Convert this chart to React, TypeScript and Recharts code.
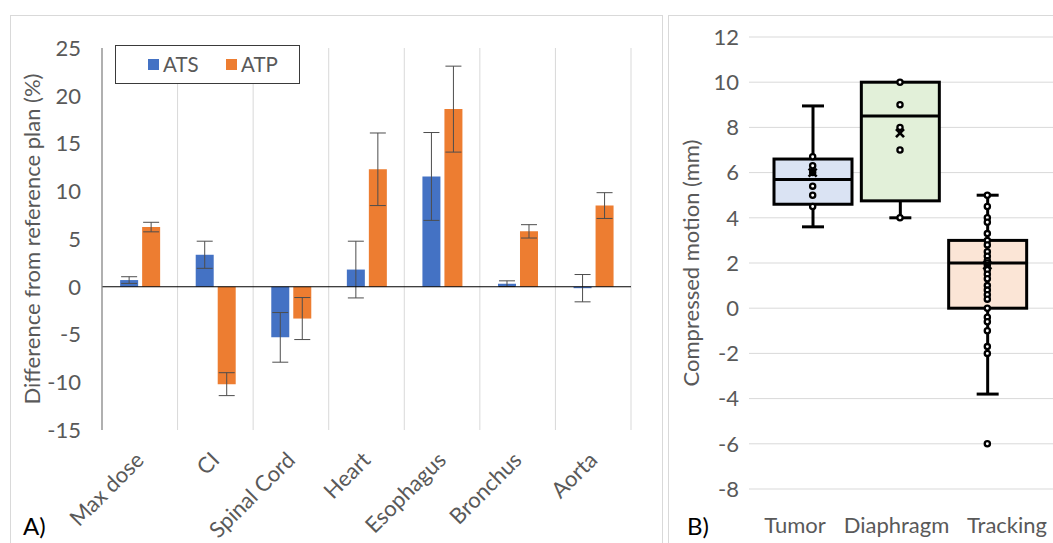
import React from 'react';
import {
  BarChart, Bar, XAxis, YAxis, ErrorBar, ReferenceLine, Legend,
  ComposedChart, Scatter, CartesianGrid,
} from 'recharts';

// ---------- Panel A data ----------
const organs = ['Max dose', 'CI', 'Spinal Cord', 'Heart', 'Esophagus', 'Bronchus', 'Aorta'];
const seriesNames = ['ATS', 'ATP'];
const atsMean = [0.7, 3.35, -5.3, 1.8, 11.55, 0.32, -0.15];
const atsErr = [0.35, 1.42, 2.6, 2.97, 4.6, 0.3, 1.43];
const atpMean = [6.25, -10.2, -3.33, 12.3, 18.6, 5.8, 8.5];
const atpErr = [0.5, 1.2, 2.2, 3.8, 4.5, 0.7, 1.35];
const yTicksA = [-15, -10, -5, 0, 5, 10, 15, 20, 25];

// ---------- Panel B data ----------
const groups = ['Tumor', 'Diaphragm', 'Tracking'];
const boxMin = [3.6, 4.0, -3.8];
const boxQ1 = [4.6, 4.75, 0];
const boxMedian = [5.7, 8.5, 2.0];
const boxQ3 = [6.6, 10.0, 3.0];
const boxMax = [8.95, 10.0, 5.0];
const boxMean = [6.0, 7.75, 1.9];
const tumorPts = [6.7, 6.3, 6.0, 5.4, 5.0, 4.5];
const diaphragmPts = [10, 9, 8, 7, 4];
const trackingPts = [5.0, 4.5, 4.0, 3.8, 3.3, 3.0, 2.8, 2.5, 2.3, 2.1, 2.0, 1.9, 1.7, 1.5, 1.3, 1.0, 0.8, 0.6, 0.4, 0.0, -0.4, -0.6, -1.0, -1.7, -2.0, -6.0];
const yTicksB = [-8, -6, -4, -2, 0, 2, 4, 6, 8, 10, 12];

// ---------- styles ----------
const FONT = 'Lato, "Open Sans", sans-serif';
const FS = 22;
const GRAY = '#595959';
const seriesColors = ['#4472c4', '#ed7d31'];
const boxFills = ['#dae3f3', '#e2f0d9', '#fbe5d6'];

const barData = organs.map((name, i) => ({
  name, ATS: atsMean[i], atsErr: atsErr[i], ATP: atpMean[i], atpErr: atpErr[i],
}));

const boxData = groups.map((name, i) => ({
  name, min: boxMin[i], q1: boxQ1[i], median: boxMedian[i], q3: boxQ3[i], max: boxMax[i],
}));

const pointData = [
  ...tumorPts.map((v) => ({ name: groups[0], v })),
  ...diaphragmPts.map((v) => ({ name: groups[1], v })),
  ...trackingPts.map((v) => ({ name: groups[2], v })),
];
const meanData = groups.map((name, i) => ({ name, v: boxMean[i] }));

const AngledTick = (props: any) => {
  const { x, y, payload } = props;
  return (
    <text x={x} y={y} transform={`rotate(-45 ${x} ${y})`} textAnchor="end" dy="0.35em"
      fill={GRAY} fontSize={FS} fontFamily={FONT}>
      {payload.value}
    </text>
  );
};

const LegendA = () => (
  <div style={{
    width: 185, height: 39, border: '1.5px solid #3a3a3a', boxSizing: 'border-box',
    position: 'relative', background: '#fff', fontFamily: FONT, fontSize: 20.5, color: GRAY,
  }}>
    {seriesNames.map((s, i) => (
      <div key={s} style={{ position: 'absolute', left: 32 + i * 78, top: 0, height: 36, display: 'flex', alignItems: 'center' }}>
        <span style={{ width: 11, height: 11, background: seriesColors[i], display: 'inline-block', marginRight: 4 }} />
        <span>{s}</span>
      </div>
    ))}
  </div>
);

const LegendB = () => (
  <svg width={390} height={38} style={{ display: 'block' }}>
    {groups.map((g, i) => (
      <text key={g} x={[132, 233.5, 344][i]} y={28} textAnchor="middle" fill={GRAY} fontSize={FS} fontFamily={FONT}>{g}</text>
    ))}
  </svg>
);

const BoxShape = (props: any) => {
  const { x, y, width, height, payload } = props;
  const { min, q1, median, q3, max, name } = payload;
  const idx = groups.indexOf(name);
  const span = max - min;
  const py = (v: number) => y + ((max - v) / span) * height;
  const cx = x + width / 2;
  const cap = 22;
  return (
    <g>
      {max > q3 && (
        <g>
          <line x1={cx} x2={cx} y1={py(max)} y2={py(q3)} stroke="#000" strokeWidth={3} />
          <line x1={cx - cap / 2} x2={cx + cap / 2} y1={py(max)} y2={py(max)} stroke="#000" strokeWidth={3} />
        </g>
      )}
      {min < q1 && (
        <g>
          <line x1={cx} x2={cx} y1={py(q1)} y2={py(min)} stroke="#000" strokeWidth={3} />
          <line x1={cx - cap / 2} x2={cx + cap / 2} y1={py(min)} y2={py(min)} stroke="#000" strokeWidth={3} />
        </g>
      )}
      <rect x={x} y={py(q3)} width={width} height={py(q1) - py(q3)} fill={boxFills[idx]} stroke="#000" strokeWidth={3} />
      <line x1={x} x2={x + width} y1={py(median)} y2={py(median)} stroke="#000" strokeWidth={3} />
    </g>
  );
};

const DotShape = (props: any) => {
  const { cx, cy } = props;
  return <circle cx={cx} cy={cy} r={2.6} fill="#fff" stroke="#000" strokeWidth={2.3} />;
};

const XMark = (props: any) => {
  const { cx, cy } = props;
  const s = 4;
  return (
    <g stroke="#000" strokeWidth={2.6}>
      <line x1={cx - s} y1={cy - s} x2={cx + s} y2={cy + s} />
      <line x1={cx - s} y1={cy + s} x2={cx + s} y2={cy - s} />
    </g>
  );
};

export default function App() {
  return (
    <div style={{ position: 'absolute', left: 0, top: 0, width: 1053, height: 543, overflow: 'hidden', background: '#fff', fontFamily: FONT }}>
      {/* panel frames */}
      <div style={{ position: 'absolute', left: 10, top: 15, width: 653, height: 560, border: '1px solid #d9d9d9', boxSizing: 'border-box' }} />
      <div style={{ position: 'absolute', left: 668, top: 15, width: 420, height: 560, border: '1px solid #d9d9d9', boxSizing: 'border-box' }} />

      {/* Panel A */}
      <div style={{ position: 'absolute', left: 0, top: 0 }}>
        <BarChart width={663} height={543} data={barData}
          margin={{ top: 48, right: 32, bottom: 13, left: 0 }}
          barCategoryGap="24%" barGap={4}>
          {organs.slice(1).map((o) => (
            <ReferenceLine key={o} x={o} position="start" stroke="#d9d9d9" strokeWidth={1} />
          ))}
          <ReferenceLine x={organs[organs.length - 1]} position="end" stroke="#d9d9d9" strokeWidth={1} />
          <XAxis dataKey="name" axisLine={false} tickLine={false} tickSize={0} tickMargin={26}
            height={100} interval={0} tick={<AngledTick />} />
          <YAxis domain={[-15, 25]} ticks={yTicksA} width={102} tickSize={0} tickMargin={21}
            axisLine={{ stroke: '#868686', strokeWidth: 1.3 }} tickLine={false}
            tick={{ fill: GRAY, fontSize: FS, fontFamily: FONT }}
            label={(p: any) => {
              const vb = p.viewBox;
              const cx = vb.x + 31.5;
              const cy = vb.y + vb.height / 2;
              return (
                <text x={cx} y={cy} transform={`rotate(-90 ${cx} ${cy})`} textAnchor="middle"
                  dominantBaseline="central" fill={GRAY} fontSize={FS} fontFamily={FONT}>
                  Difference from reference plan (%)
                </text>
              );
            }} />
          <Legend layout="horizontal" verticalAlign="middle" align="center" content={<LegendA />}
            wrapperStyle={{ left: 115, top: 45, width: 185, height: 39 }} />
          <Bar dataKey="ATS" name={seriesNames[0]} fill={seriesColors[0]} isAnimationActive={false}>
            <ErrorBar dataKey="atsErr" width={8} stroke="#4d4d4d" strokeWidth={1} direction="y" />
          </Bar>
          <Bar dataKey="ATP" name={seriesNames[1]} fill={seriesColors[1]} isAnimationActive={false}>
            <ErrorBar dataKey="atpErr" width={8} stroke="#4d4d4d" strokeWidth={1} direction="y" />
          </Bar>
          <ReferenceLine y={0} stroke="#000" strokeWidth={1} />
        </BarChart>
      </div>

      {/* Panel B */}
      <div style={{ position: 'absolute', left: 663, top: 0 }}>
        <ComposedChart width={390} height={543} data={boxData}
          margin={{ top: 37, right: 0, bottom: 54, left: 0 }}>
          <CartesianGrid vertical={false} stroke="#d9d9d9" strokeWidth={1} />
          <XAxis dataKey="name" type="category" allowDuplicatedCategory={false} hide
            padding={{ left: 20, right: 22 }} />
          <YAxis domain={[-8, 12]} ticks={yTicksB} width={86} tickSize={0} tickMargin={10}
            axisLine={false} tickLine={false}
            tick={{ fill: GRAY, fontSize: FS, fontFamily: FONT }}
            label={(p: any) => {
              const vb = p.viewBox;
              const cx = vb.x + 27;
              const cy = vb.y + vb.height / 2;
              return (
                <text x={cx} y={cy} transform={`rotate(-90 ${cx} ${cy})`} textAnchor="middle"
                  dominantBaseline="central" fill={GRAY} fontSize={FS} fontFamily={FONT}>
                  Compressed motion (mm)
                </text>
              );
            }} />
          <Bar dataKey={(d: any) => [d.min, d.max]} barSize={78} shape={<BoxShape />} isAnimationActive={false} />
          <Scatter data={pointData} dataKey="v" shape={<DotShape />} isAnimationActive={false} />
          <Scatter data={meanData} dataKey="v" shape={<XMark />} isAnimationActive={false} />
          <Legend layout="horizontal" verticalAlign="middle" align="center" content={<LegendB />}
            wrapperStyle={{ left: 0, top: 505, width: 390, height: 38 }} />
        </ComposedChart>
      </div>

      {/* panel letters */}
      <svg width={1053} height={543} style={{ position: 'absolute', left: 0, top: 0, pointerEvents: 'none' }}>
        <text x={23} y={535} fontSize={24} fontFamily={FONT} fill="#000">A)</text>
        <text x={687} y={535} fontSize={24} fontFamily={FONT} fill="#000">B)</text>
      </svg>
    </div>
  );
}
